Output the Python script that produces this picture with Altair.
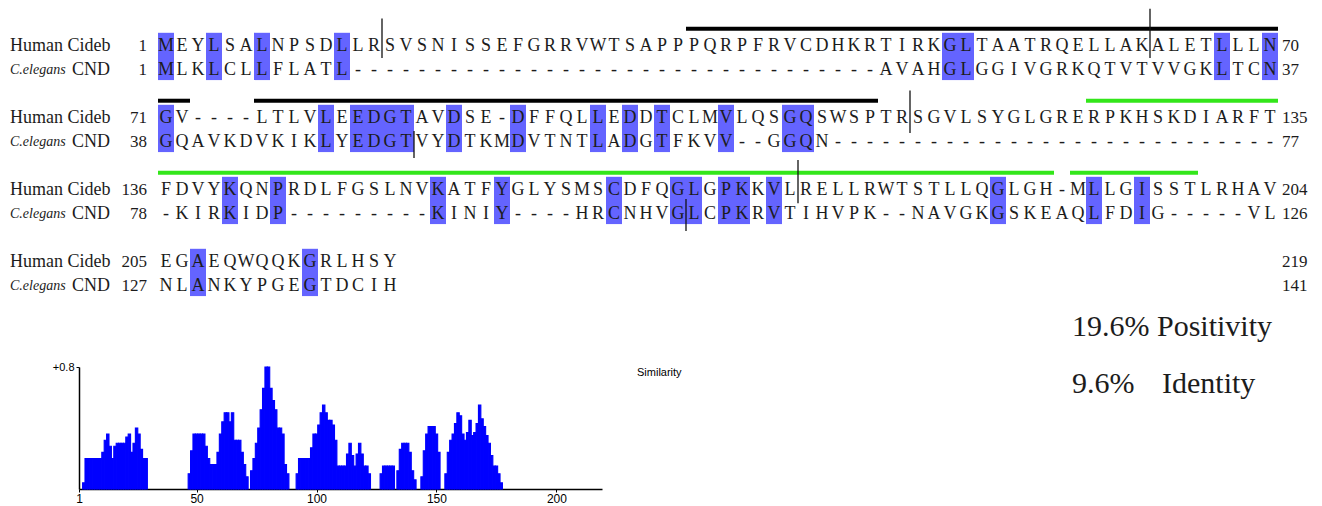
import altair as alt
import pandas as pd

# ---------------- data ----------------
human_name = "Human Cideb"
worm_genus = "C.elegans"
worm_name = "CND"

human_rows = [
    "MEYLSALNPSDLLRSVSNISSEFGRRVWTSAPPPQRPFRVCDHKRTIRKGLTAATRQELLAKALETLLLN",
    "GV----LTLVLEEDGTAVDSE-DFFQLLEDDTCLMVLQSGQSWSPTRSGVLSYGLGRERPKHSKDIARFT",
    "FDVYKQNPRDLFGSLNVKATFYGLYSMSCDFQGLGPKKVLRELLRWTSTLLQGLGH-MLLGISSTLRHAV",
    "EGAEQWQQKGRLHSY",
]
worm_rows = [
    "MLKLCLLFLATL" "----------" "----------" "----------" "---" "AVAHGLGGIVGRKQTVTVVGKLTCN",
    "GQAVKDVKIKLYEDGTVYDTKMDVTNTLADGTFKVV--GGQN" "----------" "----------" "--------",
    "-KIRKIDP" "---------" "KINIY" "----" "HRCNHVGLCPKRVTIHVPK" "--" "NAVGKGSKEAQLFDIG" "-----" "VL",
    "NLANKYPGEGTDCIH",
]
human_start = [1, 71, 136, 205]
human_end = [70, 135, 204, 219]
worm_start = [1, 38, 78, 127]
worm_end = [37, 77, 126, 141]

# domain annotation bars (alignment columns within each block)
domain_block = [0, 1, 1, 1, 2, 2]
domain_first = [34, 1, 7, 59, 1, 58]
domain_last = [70, 2, 45, 70, 56, 65]
domain_kind = ["CIDE-N", "CIDE-N", "CIDE-N", "CIDE-C", "CIDE-C", "CIDE-C"]

# exon boundary marks (after column, track 0 = human, 1 = worm)
boundary_block = [0, 0, 1, 1, 2, 2]
boundary_after = [14, 62, 16, 47, 40, 33]
boundary_track = [0, 0, 1, 0, 0, 1]
boundary_top = [-1.15, -1.55, -0.46, -1.15, -1.25, -0.62]
boundary_bottom = [0.5, 0.5, 0.67, 0.62, 0.55, 0.71]

# similarity profile, positions 1..219
similarity = [
    0, 0, 0.04, 0.2, 0.2, 0.2, 0.2, 0.2, 0.2, 0.2,
    0.24, 0.32, 0.36, 0.28, 0.2, 0.28, 0.3, 0.3, 0.3, 0.3,
    0.34, 0.36, 0.24, 0.3, 0.4, 0.36, 0.26, 0.2, 0.2, 0,
    0, 0, 0, 0, 0, 0, 0, 0, 0, 0,
    0, 0, 0, 0, 0, 0, 0.1, 0.25, 0.36, 0.36,
    0.36, 0.36, 0.36, 0.28, 0.2, 0.16, 0.16, 0.16, 0.24, 0.36,
    0.44, 0.5, 0.5, 0.44, 0.5, 0.32, 0.32, 0.32, 0.24, 0.16,
    0.08, 0, 0.12, 0.2, 0.3, 0.4, 0.52, 0.66, 0.8, 0.8,
    0.66, 0.58, 0.52, 0.4, 0.4, 0.36, 0.16, 0.1, 0, 0,
    0, 0.1, 0.2, 0.2, 0.2, 0.2, 0.2, 0.27, 0.36, 0.36,
    0.42, 0.5, 0.55, 0.5, 0.45, 0.45, 0.42, 0.32, 0.15, 0.15,
    0.15, 0.15, 0.23, 0.3, 0.22, 0.15, 0.23, 0.3, 0.23, 0.15,
    0.15, 0.1, 0, 0, 0, 0, 0.1, 0.15, 0.15, 0.15,
    0.15, 0.15, 0, 0.12, 0.26, 0.3, 0.3, 0.3, 0.24, 0.12,
    0.06, 0, 0, 0.08, 0.25, 0.36, 0.41, 0.41, 0.41, 0.36,
    0.24, 0, 0, 0.1, 0.24, 0.32, 0.36, 0.43, 0.5, 0.48,
    0.36, 0.32, 0.37, 0.45, 0.35, 0.37, 0.43, 0.55, 0.46, 0.41,
    0.35, 0.3, 0.22, 0.15, 0.15, 0.1, 0.04, 0, 0, 0,
    0, 0, 0, 0, 0, 0, 0, 0, 0, 0,
    0, 0, 0, 0, 0, 0, 0, 0, 0, 0,
    0, 0, 0, 0, 0, 0, 0, 0, 0, 0,
    0, 0, 0, 0, 0, 0, 0, 0, 0,
]
sim_ticks = [1, 50, 100, 150, 200]
positivity = 19.6
identity = 9.6

# ---------------- tables ----------------
letters, marks = [], []
for b, (h, w) in enumerate(zip(human_rows, worm_rows)):
    for i, (ch, cw) in enumerate(zip(h, w)):
        letters.append({"col": i + 1, "line": 3 * b, "char": ch})
        letters.append({"col": i + 1, "line": 3 * b + 1, "char": cw})
        if ch == cw and ch != "-":
            marks.append({"col": i + 1, "line": 3 * b})
letters_df = pd.DataFrame(letters)
hl_df = pd.DataFrame(marks)
dom_df = pd.DataFrame({"block": domain_block, "first": domain_first,
                       "last": domain_last, "kind": domain_kind})
bnd_df = pd.DataFrame({"block": boundary_block, "after": boundary_after,
                       "track": boundary_track, "top": boundary_top,
                       "bottom": boundary_bottom})
blocks = list(range(len(human_rows)))
name_df = pd.DataFrame({"line": [3 * b for b in blocks], "name": [human_name] * len(blocks)})
genus_df = pd.DataFrame({"line": [3 * b + 1 for b in blocks], "name": [worm_genus] * len(blocks)})
wname_df = pd.DataFrame({"line": [3 * b + 1 for b in blocks], "name": [worm_name] * len(blocks)})
start_df = pd.DataFrame({"line": [3 * b for b in blocks] + [3 * b + 1 for b in blocks],
                         "num": [str(v) for v in human_start + worm_start]})
end_df = pd.DataFrame({"line": [3 * b for b in blocks] + [3 * b + 1 for b in blocks],
                       "num": [str(v) for v in human_end + worm_end]})
sim_df = pd.DataFrame({"pos": list(range(1, len(similarity) + 1)), "value": similarity})

SERIF = "Liberation Serif"
SANS = "Liberation Sans"
INK = "#1c1c1c"

xcol = alt.Scale(domain=[0, 70], range=[142, 1262])
yline = alt.Scale(domain=[0, 10], range=[37, 277])


def XC(f):
    return alt.X(f, type="quantitative", scale=xcol, axis=None)


def YL(f):
    return alt.Y(f, type="quantitative", scale=yline, axis=None)


hl_layer = alt.Chart(hl_df).transform_calculate(
    x0="datum.col - 0.5", x1="datum.col + 0.5",
    y0="datum.line - 0.55", y1="datum.line + 1.42",
).mark_rect(color="#6464FF").encode(x=XC("x0"), x2="x1:Q", y=YL("y0"), y2="y1:Q")

seq_layer = alt.Chart(letters_df).mark_text(
    font=SERIF, fontSize=18, color=INK, baseline="middle", align="center"
).encode(x=XC("col"), y=YL("line"), text="char:N")

bar_layer = alt.Chart(dom_df).transform_calculate(
    x0="datum.first - 0.5", x1="datum.last + 0.5", yb="datum.block * 3 - 0.72"
).mark_rule(strokeWidth=4).encode(
    x=XC("x0"), x2="x1:Q", y=YL("yb"),
    color=alt.Color("kind:N", scale=alt.Scale(domain=["CIDE-N", "CIDE-C"],
                                              range=["#000000", "#33E61A"]), legend=None),
)

bnd_layer = alt.Chart(bnd_df).transform_calculate(
    xm="datum.after + 0.5",
    y0="datum.block * 3 + datum.track + datum.top",
    y1="datum.block * 3 + datum.track + datum.bottom",
).mark_rule(strokeWidth=1.3, color="#111111").encode(x=XC("xm"), y=YL("y0"), y2="y1:Q")

name_layer = alt.Chart(name_df).mark_text(
    font=SERIF, fontSize=18, color=INK, align="left", baseline="middle"
).encode(x=alt.value(2), y=YL("line"), text="name:N")
genus_layer = alt.Chart(genus_df).mark_text(
    font=SERIF, fontSize=14, fontStyle="italic", color=INK, align="left", baseline="middle"
).encode(x=alt.value(2), y=YL("line"), text="name:N")
wname_layer = alt.Chart(wname_df).mark_text(
    font=SERIF, fontSize=18, color=INK, align="left", baseline="middle"
).encode(x=alt.value(64), y=YL("line"), text="name:N")
start_layer = alt.Chart(start_df).mark_text(
    font=SERIF, fontSize=17, color=INK, align="right", baseline="middle"
).encode(x=alt.value(139), y=YL("line"), text="num:N")
end_layer = alt.Chart(end_df).mark_text(
    font=SERIF, fontSize=17, color=INK, align="left", baseline="middle"
).encode(x=alt.value(1274), y=YL("line"), text="num:N")

align_group = alt.layer(hl_layer, bar_layer, seq_layer, bnd_layer, name_layer,
                        genus_layer, wname_layer, start_layer, end_layer)

simx = alt.Scale(domain=[1, 219], range=[71, 594])
simy = alt.Scale(domain=[0, 0.8], range=[480, 358])
x_axis = alt.Axis(
    orient="bottom", offset=-10, values=sim_ticks, title=None, grid=False,
    tickSize=3, labelFont=SANS, labelFontSize=12, labelColor="black",
    domainColor="black", tickColor="black", domainWidth=1.5, labelPadding=1,
    labelFlush=False)
y_axis = alt.Axis(
    orient="left", offset=-71, values=[0.8], labelExpr="'+0.8'", title=None,
    grid=False, tickSize=3, labelFont=SANS, labelFontSize=11, labelColor="black",
    domainColor="black", tickColor="black", domainWidth=1.5)

sim_bars = alt.Chart(sim_df).transform_filter("datum.value > 0").transform_calculate(
    p0="datum.pos - 0.5", p1="datum.pos + 0.5"
).mark_bar(color="#0000FF", stroke="#0000FF", strokeWidth=1.1, strokeOpacity=1,
           opacity=1).encode(
    x=alt.X("p0:Q", scale=simx, axis=x_axis),
    x2="p1:Q",
    y=alt.Y("value:Q", scale=simy, axis=y_axis),
    y2=alt.Y2(datum=0),
)

sim_label = alt.Chart(pd.DataFrame({"t": ["Similarity"]})).mark_text(
    font=SANS, fontSize=11, color="black", align="left", baseline="middle"
).encode(x=alt.value(629), y=alt.value(364), text="t:N")
pos_label = alt.Chart(pd.DataFrame({"t": [f"{positivity}% Positivity"]})).mark_text(
    font=SERIF, fontSize=30, color=INK, align="left", baseline="middle"
).encode(x=alt.value(1064), y=alt.value(318), text="t:N")
id_num = alt.Chart(pd.DataFrame({"t": [f"{identity}%"]})).mark_text(
    font=SERIF, fontSize=30, color=INK, align="left", baseline="middle"
).encode(x=alt.value(1064), y=alt.value(375), text="t:N")
id_word = alt.Chart(pd.DataFrame({"t": ["Identity"]})).mark_text(
    font=SERIF, fontSize=30, color=INK, align="left", baseline="middle"
).encode(x=alt.value(1154), y=alt.value(375), text="t:N")

sim_group = alt.layer(sim_bars, sim_label, pos_label, id_num, id_word)

chart = alt.layer(align_group, sim_group).resolve_scale(
    x="independent", y="independent", color="independent"
).properties(width=1306, height=490, padding=0).configure_view(stroke=None)

chart.save("out.html", embed_options={"renderer": "svg", "actions": False})
